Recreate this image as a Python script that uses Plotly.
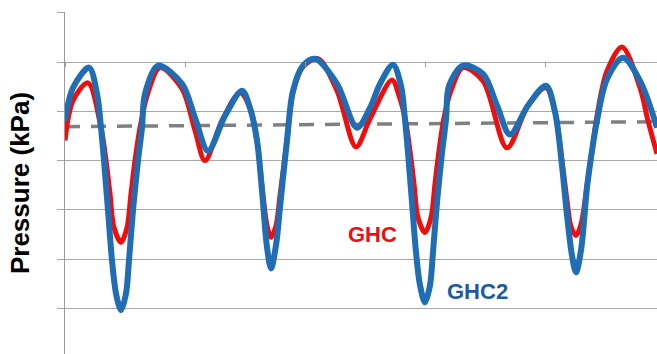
import plotly.graph_objects as go

# time axis (ms) and pressure values
ghc2_t = [0, 8, 24, 32, 36, 39, 43, 47, 51, 56, 61, 64, 68, 73, 77, 80, 93,
          117, 130, 143, 160, 177,
          185, 192, 197, 202, 206, 211, 215, 222, 228, 238, 250,
          272, 292, 305, 315, 328,
          336, 340, 343, 347, 351, 355, 360, 365, 368, 372, 377, 381, 384, 398,
          418, 432, 445, 463, 481,
          490, 497, 502, 507, 511, 516, 522, 527, 532, 542, 558, 575, 592]
ghc2_p = [38.1, 44.8, 48.9, 43.6, 36.7, 30.0, 19.9, 9.7, 3.0, -0.4, 3.0, 9.7, 19.9, 30.0, 36.7, 43.6, 49.3,
          45.6, 38.7, 32.0, 39.1, 44.2,
          40.7, 34.1, 23.9, 12.4, 8.1, 12.8, 20.5, 34.1, 44.2, 49.3, 50.7,
          45.6, 36.7, 40.7, 45.6, 49.5,
          45.2, 38.3, 31.6, 21.5, 11.4, 4.7, 1.2, 4.7, 11.4, 21.5, 31.6, 38.3, 45.2, 49.3,
          47.6, 41.2, 35.3, 41.2, 45.2,
          39.9, 29.0, 18.9, 10.7, 7.3, 11.8, 24.5, 32.0, 38.1, 46.6, 50.9, 46.2, 36.7]

ghc_t = [0, 8, 23, 36, 41, 45, 49, 56, 62, 66, 70, 75, 83, 95,
         117, 130, 140, 157, 175,
         185, 192, 197, 202, 206, 211, 215, 222, 228, 238, 253,
         272, 291, 305, 327,
         334, 340, 345, 349, 353, 360, 366, 370, 374, 379, 386, 398,
         418, 442, 463, 481,
         490, 497, 502, 506, 511, 516, 522, 527, 532, 542, 557, 575, 583, 592]
ghc_p = [34.1, 42.2, 45.8, 36.7, 30.0, 23.3, 16.4, 13.4, 16.4, 23.3, 30.0, 36.7, 43.8, 48.9,
         44.6, 36.1, 30.0, 38.1, 43.8,
         40.7, 34.1, 24.9, 16.8, 14.4, 16.8, 22.9, 34.1, 43.8, 49.1, 50.7,
         44.2, 32.8, 38.5, 46.4,
         43.2, 38.7, 32.0, 25.3, 18.4, 15.4, 18.4, 25.3, 32.0, 38.7, 44.2, 48.9,
         46.2, 32.6, 41.2, 44.8,
         39.9, 30.0, 21.9, 16.6, 14.8, 17.0, 24.9, 32.0, 39.1, 48.2, 53.1, 44.8, 38.1, 31.4]

mean_t = [0, 592]
mean_p = [36.9, 37.9]

series_names = ["GHC", "GHC2"]
y_title = "Pressure (kPa)"

fig = go.Figure()
fig.add_trace(go.Scatter(x=mean_t, y=mean_p, mode="lines",
                         line=dict(color="#808080", width=3.5, dash="15px,11px"),
                         showlegend=False, hoverinfo="skip"))
fig.add_trace(go.Scatter(x=ghc_t, y=ghc_p, mode="lines", name=series_names[0],
                         line=dict(color="#f20d0d", width=5, shape="spline", smoothing=0.9),
                         showlegend=False))
fig.add_trace(go.Scatter(x=ghc2_t, y=ghc2_p, mode="lines", name=series_names[1],
                         line=dict(color="#1f6db5", width=6, shape="spline", smoothing=0.9),
                         showlegend=False))

fig.add_annotation(x=307, y=15.0, text="<b>GHC</b>", showarrow=False,
                   font=dict(family="Liberation Sans, Arial", size=22, color="#f20d0d"))
fig.add_annotation(x=412, y=3.4, text="<b>GHC2</b>", showarrow=False,
                   font=dict(family="Liberation Sans, Arial", size=22, color="#1a5c9e"))

fig.update_layout(
    width=657, height=354,
    margin=dict(l=65, r=0, t=12, b=0),
    paper_bgcolor="white", plot_bgcolor="white",
    font=dict(family="Liberation Sans, Arial", color="black"),
    xaxis=dict(range=[0, 592], showgrid=False, zeroline=False, showline=False,
               showticklabels=False, ticks="outside", ticklen=5, tickcolor="#9a9a9a",
               tick0=0, dtick=120, anchor="free", position=0.857),
    yaxis=dict(range=[-9.3, 60.2], tick0=0, dtick=10, showgrid=True, gridcolor="#a8a8a8",
               gridwidth=1.2, zeroline=False, showline=True, linecolor="#9a9a9a", linewidth=1.2,
               ticks="outside", ticklen=7, tickcolor="#a8a8a8", showticklabels=False,
               title=dict(text="<b>" + y_title + "</b>", standoff=19,
                          font=dict(family="Liberation Sans, Arial", size=26, color="black"))),
)

fig.write_html("out.html")
